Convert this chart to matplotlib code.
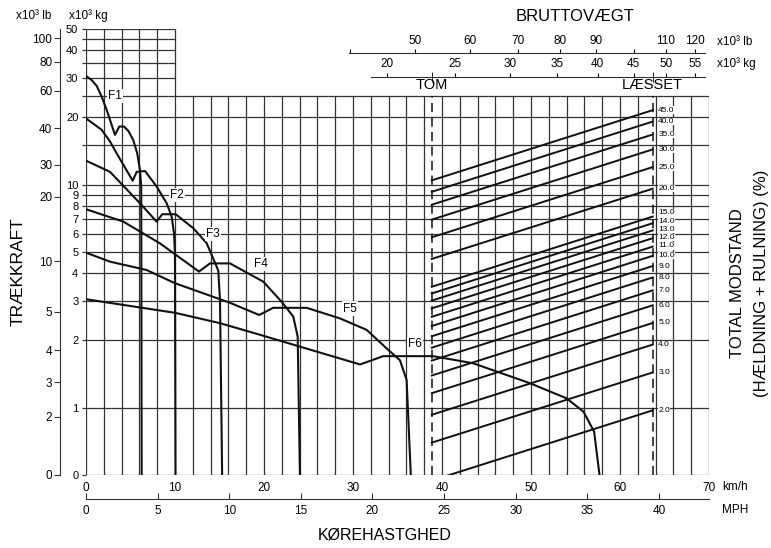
import numpy as np
import matplotlib
matplotlib.use('Agg')
import matplotlib.pyplot as plt
import matplotlib.transforms as mtransforms
from matplotlib.ticker import NullLocator

plt.rcParams['font.family'] = ['Liberation Sans', 'DejaVu Sans']

# rimpull curves per gear: speed (km/h) and pull (x10^3 kg)
f1_speed = [0, 0.64, 1.2, 1.76, 2.33, 2.89, 3.26, 3.74, 4.27, 4.76, 5.31, 5.76, 6.07, 6.21, 6.26]
f1_force = [30.7, 29.4, 27.7, 24.8, 21.6, 18.5, 16.7, 18.2, 18.2, 17.4, 15.85, 13.8, 11.6, 9.8, 0]
f2_speed = [0, 1.76, 2.7, 3.45, 5.25, 5.7, 6.63, 7.94, 9.07, 9.63, 9.89, 10.0, 10.06]
f2_force = [19.8, 17.6, 15.6, 13.8, 10.4, 11.4, 11.5, 9.8, 8.24, 7.18, 6.05, 4.93, 0]
f3_speed = [0, 2.7, 6.07, 7.94, 8.57, 10.08, 12.06, 13.56, 14.69, 14.87, 15.06, 15.3]
f3_force = [12.8, 11.4, 8.24, 6.82, 7.36, 7.36, 6.37, 5.46, 4.28, 4.1, 3.03, 0]
f4_speed = [0, 4.19, 8.31, 12.7, 13.93, 16.18, 19.92, 21.99, 23.29, 23.79, 24.04]
f4_force = [7.75, 6.82, 5.45, 4.07, 4.43, 4.43, 3.67, 2.98, 2.56, 2.08, 0]
f5_speed = [0, 2.7, 6.8, 10.0, 16.18, 19.47, 21.04, 24.8, 28.54, 31.54, 33.79, 35.28, 36.03, 36.5]
f5_force = [4.95, 4.51, 4.14, 3.61, 2.95, 2.60, 2.80, 2.80, 2.51, 2.23, 1.84, 1.63, 1.33, 0]
f6_speed = [0, 10.0, 15.06, 19.55, 30.8, 33.4, 39.0, 43.5, 49.9, 54.0, 55.9, 57.1, 57.7]
f6_force = [3.06, 2.66, 2.39, 2.12, 1.56, 1.70, 1.70, 1.58, 1.285, 1.10, 0.939, 0.640, 0]

gear_names = ['F1', 'F2', 'F3', 'F4', 'F5', 'F6']
gear_label_speed = [3.26, 10.2, 14.3, 19.7, 29.7, 37.0]
gear_label_force = [25, 9, 6, 4.4, 2.78, 1.92]

# total resistance lines (%), gross weight empty / loaded (x10^3 kg)
grade_pct = [2, 3, 4, 5, 6, 7, 8, 9, 10, 11, 12, 13, 14, 15, 20, 25, 30, 35, 40, 45]
w_empty = 23.2
w_loaded = 47.9

# axis ticks
kg_grid = [0, 1, 2, 3, 4, 5, 6, 7, 8, 9, 10, 15, 20, 25]
kg_grid_left = [30, 35, 40, 45, 50]
kg_labelled = [0, 1, 2, 3, 4, 5, 6, 7, 8, 9, 10, 20, 30, 40, 50]
lb_side = [0, 2, 3, 4, 5, 10, 20, 30, 40, 60, 80, 100]
lb_side_at = [0, 0.864, 1.297, 1.811, 2.69, 4.53, 8.83, 12.25, 17.86, 26.4, 35.6, 45.3]
kg_top = [20, 25, 30, 35, 40, 45, 50, 55]
lb_top = [40, 50, 60, 70, 80, 90, 100, 110, 120]
lb_top_at = [17.74, 21.95, 26.3, 30.8, 35.3, 39.8, 45.1, 50.0, 55.0]
lb_top_hidden = [40, 100]
kmh_ticks = list(range(0, 71, 10))
mph_ticks = list(range(0, 41, 5))

# small upward nudge (points) for the crowded % labels
pct_nudge = {15: 2.6, 14: 1.6, 13: 1.0, 12: 0.7, 11: 0.5}

LIN = np.log10(2)  # the 0-1 band is linear, as wide as one doubling


def fwd(y):
    y = np.asarray(y, dtype=float)
    return np.where(y < 1, y * LIN, LIN + np.log10(np.maximum(y, 1)))


def inv(t):
    t = np.asarray(t, dtype=float)
    return np.where(t < LIN, t / LIN, 10 ** (np.maximum(t, LIN) - LIN))


INK = '#111111'
GRID = '#333333'

fig = plt.figure(figsize=(7.71, 5.48), dpi=100)
ax = fig.add_axes([0.1115, 0.1338, 0.8080, 0.8139])
ax.set_yscale('function', functions=(fwd, inv))
ax.set_xlim(0, 70)
ax.set_ylim(0, 50)
for s in ax.spines.values():
    s.set_visible(False)

# grid: tall block up to 50 for 0-10 km/h, rest up to 25
xs = np.arange(0, 71, 2)
ax.vlines(xs, 0, np.where(xs <= 10, 50, 25), color=GRID, lw=0.9)
ax.hlines(kg_grid, 0, 70, color=GRID, lw=0.9)
ax.hlines(kg_grid_left, 0, 10, color=GRID, lw=0.9)

yt = kg_grid + kg_grid_left
ax.set_yticks(yt, labels=[str(v) if v in kg_labelled else '' for v in yt])
ax.yaxis.set_minor_locator(NullLocator())
ax.tick_params(axis='y', length=3, width=0.9, pad=2.5, labelsize=8, color=GRID)
ax.set_xticks(kmh_ticks, labels=[str(v) for v in kmh_ticks])
ax.tick_params(axis='x', length=0, pad=5, labelsize=8.5)

speeds = [f1_speed, f2_speed, f3_speed, f4_speed, f5_speed, f6_speed]
forces = [f1_force, f2_force, f3_force, f4_force, f5_force, f6_force]
for sp, fo in zip(speeds, forces):
    ax.plot(sp, fo, color=INK, lw=1.5, solid_joinstyle='round')
for name, x, y in zip(gear_names, gear_label_speed, gear_label_force):
    ax.text(x, y, name, ha='center', va='center', fontsize=8.5,
            bbox=dict(fc='white', ec='none', pad=0.8), zorder=4)

# gross weight axis (log) on top, kg
ax_w = ax.twiny()
ax_w.set_xscale('log')
ax_w.set_xlim(7.46, 57.6)
for k, s in ax_w.spines.items():
    s.set_visible(k == 'top')
ax_w.spines['top'].set_position(('axes', 0.8924))
ax_w.spines['top'].set_bounds(19.0, 56.8)
ax_w.spines['top'].set_color(GRID)
ax_w.set_xticks(kg_top, labels=[str(v) for v in kg_top])
ax_w.set_xticks([w_empty, w_loaded], labels=['', ''], minor=True)
ax_w.tick_params(axis='x', which='major', direction='out', length=3, pad=1.5, labelsize=8.5)
ax_w.tick_params(axis='x', which='minor', direction='inout', length=7)

# same scale in lb
ax_lbw = ax.twiny()
ax_lbw.set_xscale('log')
ax_lbw.set_xlim(7.46, 57.6)
for k, s in ax_lbw.spines.items():
    s.set_visible(k == 'top')
ax_lbw.spines['top'].set_position(('axes', 0.9448))
ax_lbw.spines['top'].set_bounds(17.7, 56.8)
ax_lbw.spines['top'].set_color(GRID)
ax_lbw.set_xticks(lb_top_at, labels=['' if v in lb_top_hidden else str(v) for v in lb_top])
ax_lbw.xaxis.set_minor_locator(NullLocator())
ax_lbw.tick_params(axis='x', direction='out', length=3, pad=1.5, labelsize=8.5)

# empty / loaded markers
ax_w.vlines([w_empty, w_loaded], 0, 25, colors=INK, lw=1.1, linestyles=(0, (6, 3.5)))
top_tr = mtransforms.blended_transform_factory(ax_w.transData, ax_w.transAxes)
ax_w.text(w_empty, 0.874, 'TOM', transform=top_tr, ha='center', va='center', fontsize=10.5)
ax_w.text(w_loaded, 0.874, 'LÆSSET', transform=top_tr, ha='center', va='center', fontsize=10.5)

# resistance lines: pull = pct * weight, straight on the chart between empty and loaded
span = np.log10(w_loaded / w_empty)
for p in grade_pct:
    f_end = p / 100 * w_loaded
    f_start = inv(fwd(f_end) - span)
    ax_w.plot([w_empty, w_loaded], [f_start, f_end], color=INK, lw=1.4)
for p in sorted(grade_pct, reverse=True):
    ax_w.annotate(f'{p:.1f}', xy=(w_loaded, p / 100 * w_loaded), xytext=(4, pct_nudge.get(p, 0)),
                  textcoords='offset points', ha='left', va='center', fontsize=6,
                  bbox=dict(fc='white', ec='none', pad=0.1), zorder=5)

# mph scale under km/h
ax_mph = ax.twiny()
ax_mph.set_xlim(0, 70 / 1.609344)
ax_mph.xaxis.tick_bottom()
for k, s in ax_mph.spines.items():
    s.set_visible(k == 'bottom')
ax_mph.spines['bottom'].set_position(('axes', -0.0552))
ax_mph.spines['bottom'].set_color(GRID)
ax_mph.set_xticks(mph_ticks, labels=[str(v) for v in mph_ticks])
ax_mph.tick_params(axis='x', direction='in', length=4, pad=4, labelsize=8.5, color=GRID)

# lb scale left of kg scale
ax_lb = ax.twinx()
ax_lb.set_yscale('function', functions=(fwd, inv))
ax_lb.set_ylim(0, 50)
ax_lb.yaxis.tick_left()
for k, s in ax_lb.spines.items():
    s.set_visible(k == 'left')
ax_lb.spines['left'].set_position(('axes', -0.0417))
ax_lb.spines['left'].set_bounds(0, 50)
ax_lb.spines['left'].set_color(GRID)
ax_lb.set_yticks(lb_side_at, labels=[str(v) for v in lb_side])
ax_lb.yaxis.set_minor_locator(NullLocator())
ax_lb.tick_params(axis='y', length=4, pad=1.5, labelsize=8.5, color=GRID)

ax.set_ylim(0, 50)

# titles and units
fig.text(0.0441, 0.9714, 'x10³ lb', ha='center', va='center', fontsize=8.5)
fig.text(0.1141, 0.9714, 'x10³ kg', ha='center', va='center', fontsize=8.5)
fig.text(0.9296, 0.9239, 'x10³ lb', ha='left', va='center', fontsize=8.5)
fig.text(0.9300, 0.8845, 'x10³ kg', ha='left', va='center', fontsize=8.5)
fig.text(0.7458, 0.969, 'BRUTTOVÆGT', ha='center', va='center', fontsize=12)
fig.text(0.0233, 0.5036, 'TRÆKKRAFT', ha='center', va='center', rotation=90, fontsize=12.5)
fig.text(0.9565, 0.4827, 'TOTAL MODSTAND', ha='center', va='center', rotation=90, fontsize=12)
fig.text(0.9883, 0.4836, '(HÆLDNING + RULNING) (%)', ha='center', va='center', rotation=90, fontsize=12)
fig.text(0.4994, 0.0237, 'KØREHASTGHED', ha='center', va='center', fontsize=11.5)
fig.text(0.9364, 0.1119, 'km/h', ha='left', va='center', fontsize=8.5)
fig.text(0.9364, 0.0693, 'MPH', ha='left', va='center', fontsize=8.5)

fig.savefig('out.png', dpi=100)
